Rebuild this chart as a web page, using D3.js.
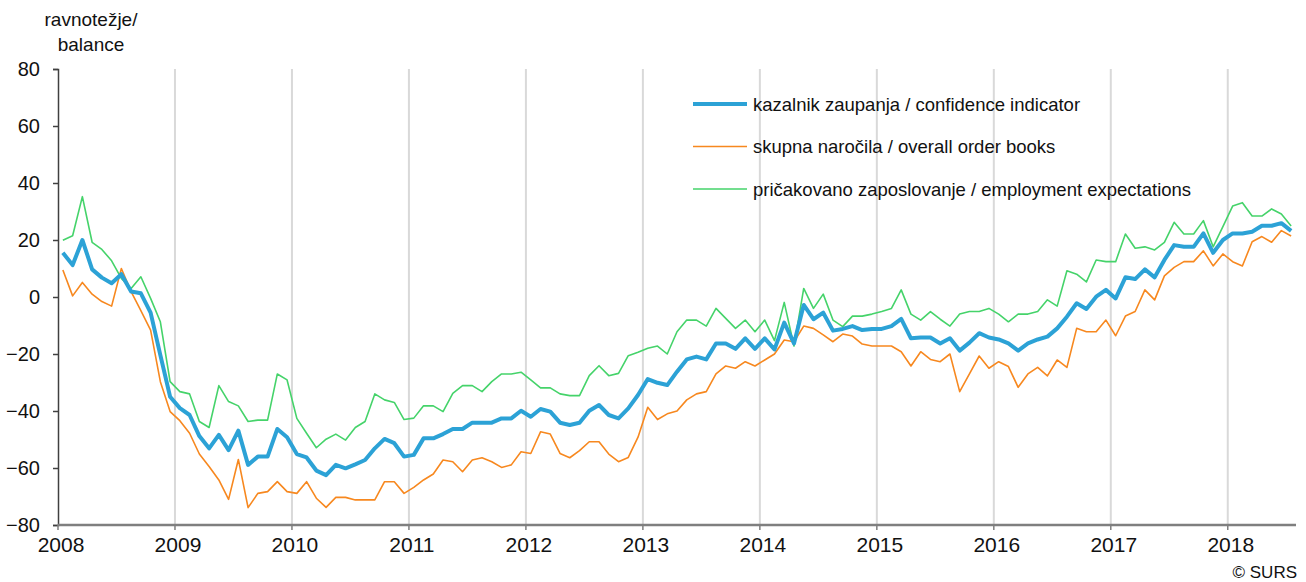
<!DOCTYPE html>
<html>
<head>
<meta charset="utf-8">
<script src="https://cdn.jsdelivr.net/npm/d3@7"></script>
<style>
  body { margin: 0; background: #fff; }
  svg { display: block; font-family: "Liberation Sans", Arial, sans-serif; }
</style>
</head>
<body>
<script>
// podatki: mesečno od jan 2008 do jul 2018
const years = ['2008', '2009', '2010', '2011', '2012', '2013', '2014', '2015', '2016', '2017', '2018']
const yTicks = [-80, -60, -40, -20, 0, 20, 40, 60, 80]

const confidence = [
  15.5, 11.2, 20, 9.7, 6.8, 4.8, 8, 1.9, 1.3, -5.5, -20.4, -35,
  -39, -41.4, -48.8, -53.1, -48.4, -53.7, -46.9, -58.9, -56, -56, -46.3, -49.2,
  -55.1, -56.3, -60.9, -62.5, -58.9, -60.1, -58.7, -57.2, -53.1, -49.8, -51.3, -56,
  -55.4, -49.6, -49.6, -48.1, -46.3, -46.3, -44.1, -44.1, -44.1, -42.6, -42.6, -39.9,
  -42, -39.3, -40.2, -44.1, -44.9, -44.1, -39.9, -37.9, -41.4, -42.6, -39.1, -34.4,
  -28.8, -30.1, -30.9, -26.2, -21.9, -20.9, -21.9, -16.3, -16.3, -18.2, -14.5, -18.2,
  -14.5, -18.4, -9, -16.3, -2.8, -7.8, -5.5, -11.8, -11.2, -10.2, -11.6, -11.2,
  -11.2, -10.2, -7.7, -14.5, -14.2, -14.2, -16.3, -14.5, -18.8, -16, -12.7, -14.2,
  -14.9, -16.3, -18.8, -16.3, -14.9, -13.9, -11, -6.9, -2.2, -4.2, 0.1, 2.5,
  -0.5, 6.9, 6.3, 9.7, 6.9, 13, 18.2, 17.6, 17.6, 22.3, 15.5, 20,
  22.3, 22.3, 22.9, 25, 25, 25.9, 23.2
]
const orderBooks = [
  9.5, 0.4, 5.1, 1, -1.6, -3.2, 10, 1.9, -4.8, -11.6, -29.7, -40.2,
  -43.4, -47.8, -55.1, -59.5, -64.2, -71, -57, -73.9, -68.9, -68.3, -64.8, -68.3,
  -68.9, -64.8, -70.6, -73.8, -70.3, -70.3, -71.2, -71.2, -71.2, -64.8, -64.8, -68.9,
  -66.8, -64.2, -62.1, -57.2, -57.8, -61.3, -57.2, -56.4, -57.8, -59.8, -58.9, -54.3,
  -54.9, -47.3, -48.1, -54.9, -56.4, -53.9, -50.8, -50.8, -55.1, -57.8, -56.3, -49.2,
  -38.7, -43, -41, -40, -36.1, -34, -33.2, -27, -24.2, -25, -22.7, -24.2,
  -22.1, -20, -15.1, -15.7, -10.2, -11, -13.3, -15.7, -13, -13.7, -16.5, -17.2,
  -17.2, -17.2, -19.2, -24.2, -19.2, -21.9, -22.7, -20, -33.2, -27, -20.7, -25,
  -22.7, -24.4, -31.7, -27, -24.7, -27.7, -22.1, -24.7, -11, -12.2, -12.2, -8.1,
  -13.6, -6.7, -5.1, 2.5, -1, 7.4, 10.4, 12.4, 12.4, 16.2, 10.9, 15.1,
  12.4, 10.9, 19.4, 21.2, 19.2, 23.3, 21.4
]
const employment = [
  19.9, 21.5, 35.2, 19.2, 16.7, 12.7, 6.5, 3, 7.1, -0.5, -8.7, -29.7,
  -33.2, -34, -43.7, -45.8, -31.1, -36.7, -38.2, -43.7, -43.2, -43.2, -27, -29.1,
  -42.6, -47.8, -52.9, -49.9, -48.1, -50.2, -45.8, -43.7, -34, -36.1, -37, -43,
  -42.5, -38.2, -38.2, -40.2, -33.8, -31.1, -31.1, -33.2, -29.7, -27, -27, -26.4,
  -29.1, -31.9, -31.9, -34, -34.6, -34.6, -27.6, -24.1, -27.6, -26.8, -20.6, -19.4,
  -18, -17.2, -20, -12.2, -8.1, -8.1, -10.2, -4, -7.5, -11, -8.1, -12.2,
  -8.1, -15.3, -1.9, -17.2, 3, -4, 1, -8.1, -10.4, -6.7, -6.7, -6,
  -5.1, -4, 2.5, -6, -8.1, -5.1, -7.8, -10.2, -6, -5.1, -5.1, -4,
  -6, -8.7, -6, -6, -5.1, -1, -3.2, 9.2, 8, 5.3, 13, 12.4,
  12.4, 22.1, 17.1, 17.6, 16.5, 19.2, 26.2, 22.1, 22.1, 26.8, 17.6, 24.7,
  31.9, 33.1, 28.4, 28.4, 30.9, 29.1, 24.9
]

const seriesNames = [
  'kazalnik zaupanja / confidence indicator',
  'skupna naročila / overall order books',
  'pričakovano zaposlovanje / employment expectations'
]
const seriesColors = ['#2ca2d6', '#f7881f', '#45d36a']
const seriesWidths = [4, 1.6, 1.6]
const seriesData = [confidence, orderBooks, employment]

const WIDTH = 1306
const HEIGHT = 582
const LEFT = 58
const RIGHT = 1296
const TOP = 69
const BOTTOM = 525
const N_MONTHS = 127

const svg = d3.select('body').append('svg').attr('width', WIDTH).attr('height', HEIGHT)

const xScale = d3.scaleLinear().domain([0, N_MONTHS]).range([LEFT, RIGHT])
const yScale = d3.scaleLinear().domain([-80, 80]).range([BOTTOM, TOP])

// navpične mreže (leta)
svg.append('g')
  .selectAll('line')
  .data(years.slice(1))
  .enter()
  .append('line')
  .attr('x1', (d, i) => xScale((i + 1) * 12))
  .attr('x2', (d, i) => xScale((i + 1) * 12))
  .attr('y1', TOP)
  .attr('y2', BOTTOM)
  .attr('stroke', '#d9d9d9')
  .attr('stroke-width', 2)

// os y
const axisY = d3.axisLeft(yScale).tickValues(yTicks).tickSize(5).tickPadding(13)
const gy = svg.append('g')
  .attr('transform', `translate(${LEFT}, 0)`)
  .call(axisY)
gy.select('.domain').attr('stroke', '#404040').attr('stroke-width', 1.5)
gy.selectAll('.tick line').attr('stroke', '#404040').attr('stroke-width', 1.5)
gy.selectAll('.tick text')
  .attr('font-family', '"Liberation Sans", Arial, sans-serif')
  .attr('font-size', 20)
  .attr('fill', '#111')

// os x
svg.append('line')
  .attr('x1', LEFT).attr('x2', RIGHT)
  .attr('y1', BOTTOM).attr('y2', BOTTOM)
  .attr('stroke', '#7f7f7f')
  .attr('stroke-width', 2.5)

const xg = svg.append('g')
xg.selectAll('line')
  .data(years)
  .enter()
  .append('line')
  .attr('x1', (d, i) => xScale(i * 12))
  .attr('x2', (d, i) => xScale(i * 12))
  .attr('y1', BOTTOM)
  .attr('y2', BOTTOM + 5)
  .attr('stroke', '#7f7f7f')
  .attr('stroke-width', 1.5)
xg.selectAll('text')
  .data(years)
  .enter()
  .append('text')
  .attr('x', (d, i) => xScale(i * 12) + 3)
  .attr('y', BOTTOM + 27)
  .attr('text-anchor', 'middle')
  .attr('font-size', 21)
  .attr('fill', '#111')
  .text(d => d)

// črte
const line = d3.line()
  .x((d, i) => xScale(i + 0.5))
  .y(d => yScale(d))

// najprej tanke, nato debela modra
;[2, 1, 0].forEach(k => {
  svg.append('path')
    .datum(seriesData[k])
    .attr('d', line)
    .attr('fill', 'none')
    .attr('stroke', seriesColors[k])
    .attr('stroke-width', seriesWidths[k])
    .attr('stroke-linejoin', 'round')
})

// legenda
const legend = svg.append('g').attr('transform', 'translate(693, 104)')
const rows = legend.selectAll('g')
  .data(seriesNames)
  .enter()
  .append('g')
  .attr('transform', (d, i) => `translate(0, ${i * 42.5})`)
rows.append('line')
  .attr('x1', 0).attr('x2', 54)
  .attr('y1', 0).attr('y2', 0)
  .attr('stroke', (d, i) => seriesColors[i])
  .attr('stroke-width', (d, i) => seriesWidths[i])
rows.append('text')
  .attr('x', 60)
  .attr('y', 6.5)
  .attr('font-size', 18.5)
  .attr('fill', '#111')
  .text(d => d)

// naslov osi y
svg.append('text')
  .attr('x', 91).attr('y', 26)
  .attr('text-anchor', 'middle')
  .attr('font-size', 19)
  .attr('fill', '#111')
  .text('ravnotežje/')
svg.append('text')
  .attr('x', 91).attr('y', 51)
  .attr('text-anchor', 'middle')
  .attr('font-size', 19)
  .attr('fill', '#111')
  .text('balance')

svg.append('text')
  .attr('x', 1297).attr('y', 578)
  .attr('text-anchor', 'end')
  .attr('font-size', 17)
  .attr('fill', '#111')
  .text('© SURS')
</script>
</body>
</html>
